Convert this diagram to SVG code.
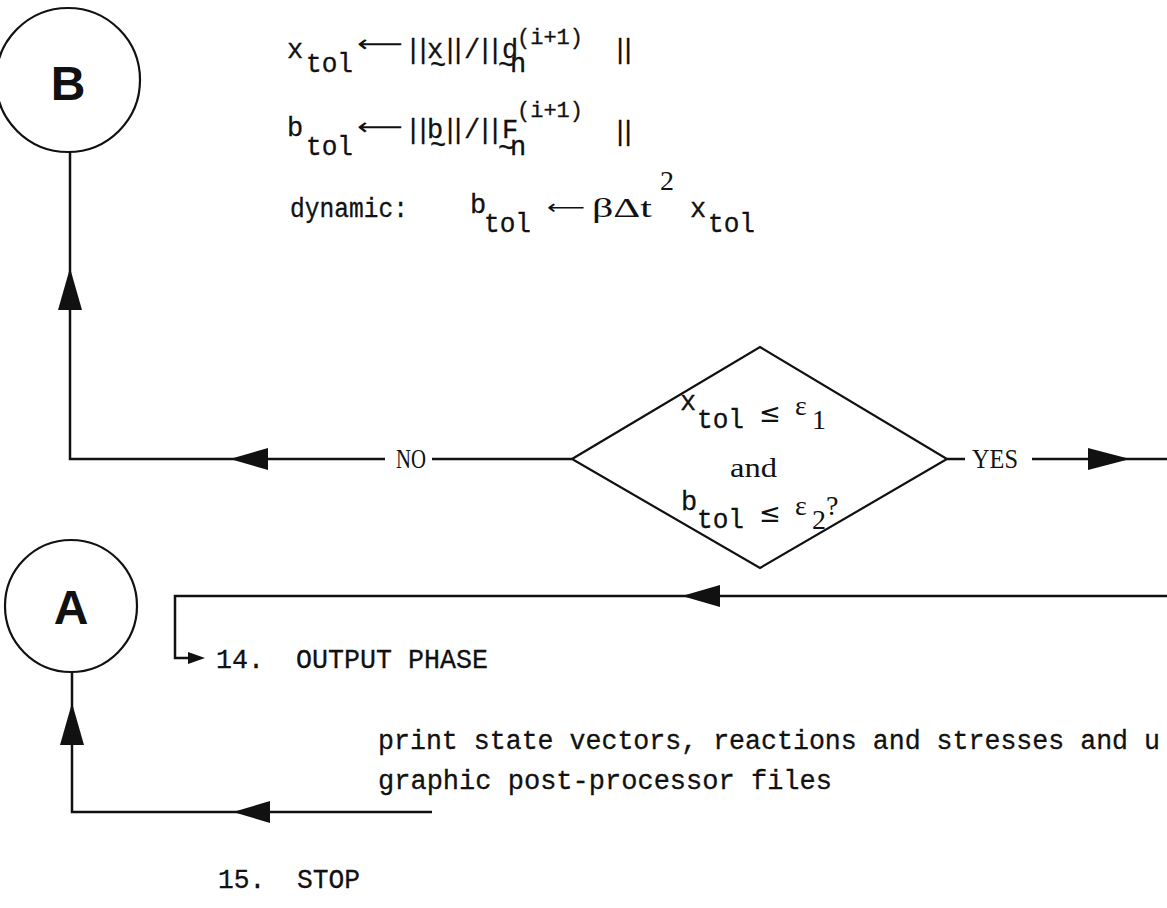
<svg xmlns="http://www.w3.org/2000/svg" width="1167" height="908" viewBox="0 0 1167 908">
<style>
.bg{fill:#fff}
.ln{stroke:#111;stroke-width:2.5;fill:none}
.sh{stroke:#111;stroke-width:2.2;fill:none}
.ah{fill:#111;stroke:none}
.tw{font-family:"Liberation Mono","DejaVu Sans Mono",monospace;font-size:27px;fill:#111;stroke:#111;stroke-width:0.3}
.sm{font-family:"Liberation Mono","DejaVu Sans Mono",monospace;font-size:22px;fill:#111;stroke:#111;stroke-width:0.3}
.sf{font-family:"Liberation Serif","DejaVu Serif",serif;font-size:28px;fill:#111}
.big{font-family:"Liberation Sans",Arial,sans-serif;font-size:48px;font-weight:bold;fill:#111}
.sym{font-family:"DejaVu Sans",sans-serif;fill:#111}
</style>
<rect class="bg" x="0" y="0" width="1167" height="908"/>

<g id="connectors">
  <polyline class="ln" points="385,459 70,459 70,152"/>
  <polygon class="ah" points="230,459 268,448 268,470"/>
  <polygon class="ah" points="70,268 58,310 82,310"/>
  <line class="ln" x1="432" y1="459" x2="572" y2="459"/>
  <line class="ln" x1="947" y1="459" x2="965" y2="459"/>
  <line class="ln" x1="1032" y1="459" x2="1167" y2="459"/>
  <polygon class="ah" points="1130,459 1088,448 1088,470"/>
  <polyline class="ln" points="1167,596 175,596 175,658 195,658"/>
  <polygon class="ah" points="682,596 720,585 720,607"/>
  <polygon class="ah" points="205,658 188,652 188,664"/>
  <polyline class="ln" points="432,812 72,812 72,672"/>
  <polygon class="ah" points="233,812 270,801 270,823"/>
  <polygon class="ah" points="72,703 60,745 84,745"/>
</g>

<g id="node-B">
  <circle class="sh" cx="68" cy="80" r="72"/>
  <text class="big" x="68" y="100" text-anchor="middle">B</text>
</g>

<g id="node-A">
  <circle class="sh" cx="71" cy="606" r="66"/>
  <text class="big" x="71" y="624" text-anchor="middle">A</text>
</g>

<g id="node-tolerances">
  <text class="tw" x="287" y="58">x</text>
  <text class="tw" x="306" y="72" textLength="47" lengthAdjust="spacingAndGlyphs">tol</text>
  <text class="sym" x="357" y="52" font-size="24" textLength="46" lengthAdjust="spacingAndGlyphs">⟵</text>
  <text class="tw" x="405 415 427 442 450 464 477 487 502" y="58">||x||/||d</text>
  <text class="tw" x="430" y="74" font-size="15">~</text>
  <text class="tw" x="498" y="74" font-size="18">~</text>
  <text class="tw" x="510" y="72">n</text>
  <text class="sm" x="517" y="44" textLength="66" lengthAdjust="spacingAndGlyphs">(i+1)</text>
  <text class="tw" x="612 620" y="58">||</text>

  <text class="tw" x="287" y="136">b</text>
  <text class="tw" x="306" y="155" textLength="47" lengthAdjust="spacingAndGlyphs">tol</text>
  <text class="sym" x="357" y="135" font-size="24" textLength="46" lengthAdjust="spacingAndGlyphs">⟵</text>
  <text class="tw" x="405 415 427 442 450 464 477 487 502" y="138">||b||/||F</text>
  <text class="tw" x="430" y="154" font-size="15">~</text>
  <text class="tw" x="498" y="157" font-size="18">~</text>
  <text class="tw" x="510" y="155">n</text>
  <text class="sm" x="517" y="117" textLength="66" lengthAdjust="spacingAndGlyphs">(i+1)</text>
  <text class="tw" x="612 620" y="140">||</text>

  <text class="tw" x="290" y="217" textLength="118" lengthAdjust="spacingAndGlyphs">dynamic:</text>
  <text class="tw" x="470" y="213">b</text>
  <text class="tw" x="484" y="232" textLength="47" lengthAdjust="spacingAndGlyphs">tol</text>
  <text class="sym" x="547" y="214" font-size="20" textLength="38" lengthAdjust="spacingAndGlyphs">⟵</text>
  <text class="sf" x="592" y="217" font-size="27" textLength="60" lengthAdjust="spacingAndGlyphs">βΔt</text>
  <text class="sf" x="660" y="190">2</text>
  <text class="tw" x="690" y="217">x</text>
  <text class="tw" x="708" y="232" textLength="47" lengthAdjust="spacingAndGlyphs">tol</text>
</g>

<g id="node-decision">
  <polygon class="sh" points="572,459 760,347 947,459 760,568"/>
  <text class="tw" x="680" y="410">x</text>
  <text class="tw" x="697" y="428" textLength="47" lengthAdjust="spacingAndGlyphs">tol</text>
  <text class="sym" x="759" y="422" font-size="26">≤</text>
  <text class="sf" x="795" y="415">ε</text>
  <text class="sf" x="812" y="429" font-size="24">1</text>
  <text class="sf" x="730" y="477" textLength="47" lengthAdjust="spacingAndGlyphs">and</text>
  <text class="tw" x="681" y="510">b</text>
  <text class="tw" x="697" y="528" textLength="47" lengthAdjust="spacingAndGlyphs">tol</text>
  <text class="sym" x="759" y="522" font-size="26">≤</text>
  <text class="sf" x="795" y="515">ε</text>
  <text class="sf" x="812" y="529" font-size="24">2</text>
  <text class="sf" x="826" y="515">?</text>
</g>

<g id="labels">
  <text class="sf" x="396" y="468" textLength="30" lengthAdjust="spacingAndGlyphs">NO</text>
  <text class="sf" x="972" y="468" textLength="46" lengthAdjust="spacingAndGlyphs">YES</text>
</g>

<g id="node-output">
  <text class="tw" x="216" y="668" xml:space="preserve" textLength="272" lengthAdjust="spacingAndGlyphs">14.  OUTPUT PHASE</text>
  <text class="tw" x="378" y="749" textLength="782" lengthAdjust="spacingAndGlyphs">print state vectors, reactions and stresses and u</text>
  <text class="tw" x="378" y="789" textLength="454" lengthAdjust="spacingAndGlyphs">graphic post-processor files</text>
</g>

<g id="node-stop">
  <text class="tw" x="218" y="888" xml:space="preserve" textLength="142" lengthAdjust="spacingAndGlyphs">15.  STOP</text>
</g>
</svg>
